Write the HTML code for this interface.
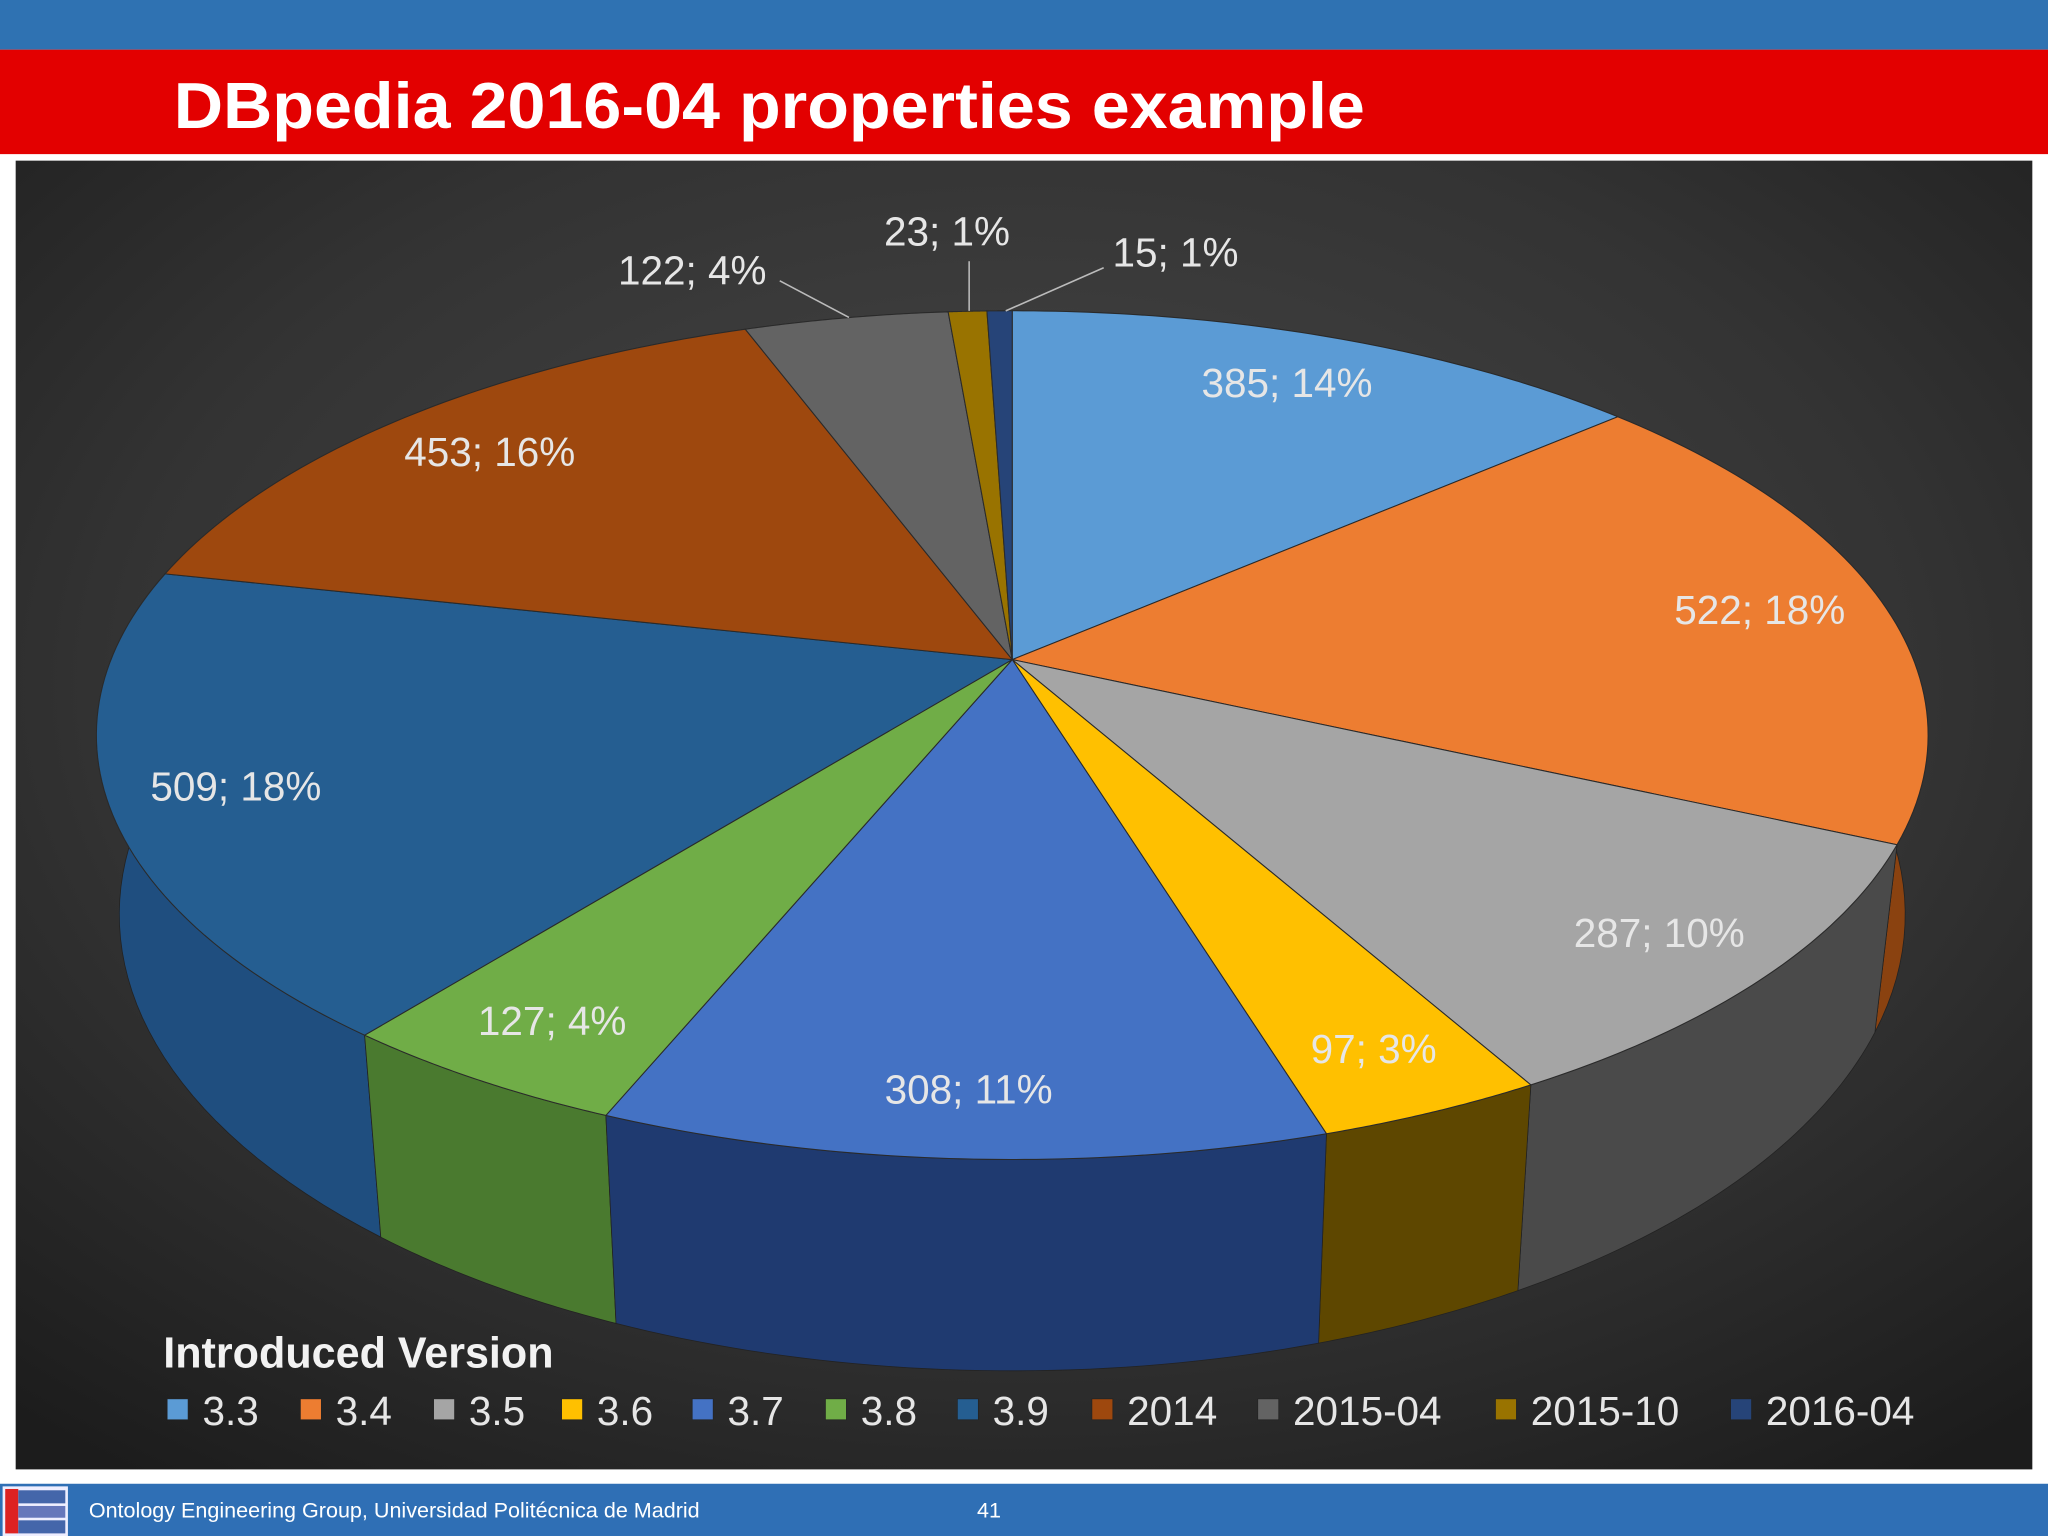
<!DOCTYPE html>
<html><head><meta charset="utf-8"><style>
html,body{margin:0;padding:0;background:#fff;width:2048px;height:1536px;overflow:hidden}
svg{display:block}
text{font-family:"Liberation Sans",sans-serif}
</style></head><body>
<svg id="s" width="2048" height="1536" viewBox="0 0 1568 1176" xmlns="http://www.w3.org/2000/svg">
<defs>
<radialGradient id="bg" cx="0.5" cy="0.4" r="0.75">
<stop offset="0" stop-color="#4a4a4a"/><stop offset="0.6" stop-color="#333"/><stop offset="1" stop-color="#1c1c1c"/>
</radialGradient>
</defs>
<rect x="0" y="0" width="1568" height="38" fill="#2f72b2"/>
<rect x="0" y="38" width="1568" height="80" fill="#e30000"/>
<text x="133" y="98" font-size="50" font-weight="bold" fill="#fff" textLength="912" lengthAdjust="spacingAndGlyphs">DBpedia 2016-04 properties example</text>
<rect x="12" y="123" width="1544" height="1002" fill="url(#bg)"/>
<g id="sides"></g>
<g id="tops"></g>
<g id="labels"></g>
<text x="125" y="1047" font-size="33" font-weight="bold" fill="#f2f2f2">Introduced Version</text>
<g id="legend"></g>
<rect x="0" y="1136" width="1568" height="40" fill="#2f6fb5"/>
<g>
<rect x="2" y="1138" width="50" height="38" fill="#eef"/>
<rect x="4" y="1140" width="10" height="34" fill="#d22"/>
<rect x="14" y="1141" width="36" height="10" fill="#4466aa"/>
<rect x="14" y="1153" width="36" height="9" fill="#6677bb"/>
<rect x="14" y="1164" width="36" height="10" fill="#4466aa"/>
</g>
<text x="68" y="1162" font-size="16.5" fill="#fff">Ontology Engineering Group, Universidad Politécnica de Madrid</text>
<text x="748" y="1162" font-size="16.5" fill="#fff">41</text>
</svg>
<script>
const categories=["3.3","3.4","3.5","3.6","3.7","3.8","3.9","2014","2015-04","2015-10","2016-04"];
const values=[385,522,287,97,308,127,509,453,122,23,15];
const percents=["14%","18%","10%","3%","11%","4%","18%","16%","4%","1%","1%"];
const topColors=["#5b9bd5","#ed7d31","#a5a5a5","#ffc000","#4472c4","#70ad47","#255e91","#9e480e","#636363","#997300","#264478"];
const sideColors=["#3c6e9e","#8a4210","#4a4a4a","#5e4700","#1f3a70","#4a7a2f","#1f4e7f","#6a2f08","#3e3e3e","#5e4700","#1a2f55"];
const NS="http://www.w3.org/2000/svg";
const total=values.reduce((a,b)=>a+b,0);
const apex={x:775,y:505};
const K=0.178,RX=690,RY=314.6,DEPTH=133,BX=0.975;
function sc(t){return 1/(1+K*Math.cos(t));}
function topRim(t){const s=sc(t);return {x:apex.x+RX*Math.sin(t)*s,y:apex.y-RY*Math.cos(t)*s};}
function botRim(t){const s=sc(t);return {x:apex.x+BX*RX*Math.sin(t)*s,y:apex.y-RY*Math.cos(t)*s+DEPTH*s};}
function el(tag,attrs){const e=document.createElementNS(NS,tag);for(const k in attrs)e.setAttribute(k,attrs[k]);return e;}
const sidesG=document.getElementById('sides'),topsG=document.getElementById('tops'),labG=document.getElementById('labels'),legG=document.getElementById('legend');
let acc=0;const slices=[];
values.forEach((v,i)=>{const a0=acc/total*2*Math.PI;acc+=v;const a1=acc/total*2*Math.PI;slices.push({i,a0,a1});});
slices.slice().sort((a,b)=>Math.cos((b.a0+b.a1)/2)-Math.cos((a.a0+a.a1)/2)).forEach(s=>{
  const pts=[];const n=40;
  for(let k=0;k<=n;k++){const p=topRim(s.a0+(s.a1-s.a0)*k/n);pts.push(p.x+','+p.y);}
  for(let k=n;k>=0;k--){const p=botRim(s.a0+(s.a1-s.a0)*k/n);pts.push(p.x+','+p.y);}
  const poly=el('polygon',{points:pts.join(' '),fill:sideColors[s.i],stroke:'#222','stroke-width':'0.6'});
  
  
  sidesG.appendChild(poly);
});
const outerIdx=[8,9,10];
slices.forEach(s=>{
  const pts=[apex.x+','+apex.y];const n=60;
  for(let k=0;k<=n;k++){const p=topRim(s.a0+(s.a1-s.a0)*k/n);pts.push(p.x+','+p.y);}
  const poly=el('polygon',{points:pts.join(' '),fill:topColors[s.i],stroke:'#2a2a2a','stroke-width':'0.8'});
  
  
  topsG.appendChild(poly);
  const m=(s.a0+s.a1)/2;const txt=values[s.i]+'; '+percents[s.i];
  if(outerIdx.indexOf(s.i)<0){
    const r=topRim(m);
    const x=apex.x+0.86*(r.x-apex.x),y=apex.y+0.86*(r.y-apex.y);
    const t=el('text',{x:x,y:y+11,'font-size':'31','text-anchor':'middle',fill:'#e6e6e6'});
    t.textContent=txt;
    
    
    labG.appendChild(t);
  }
});
const outer=[[8,530,218,597,215,650,243],[9,725,188,742,200,742,238],[10,900,204,845,205,770,238]];
outer.forEach(o=>{
  const i=o[0];
  const t=el('text',{x:o[1],y:o[2],'font-size':'31','text-anchor':'middle',fill:'#e6e6e6'});
  t.textContent=values[i]+'; '+percents[i];
  
  
  labG.appendChild(t);
  const l=el('line',{x1:o[3],y1:o[4],x2:o[5],y2:o[6],stroke:'#bbb','stroke-width':'1.2'});
  
  
  labG.appendChild(l);
});
const legX=[128,230,332,430,530,632,733,836,963,1145,1325];
categories.forEach((c,i)=>{
  const r=el('rect',{x:legX[i],y:1071,width:16,height:16,fill:topColors[i],stroke:'#222','stroke-width':'0.5'});
  
  
  legG.appendChild(r);
  const t=el('text',{x:legX[i]+27,y:1091,'font-size':'31',fill:'#e6e6e6'});
  t.textContent=c;
  
  
  legG.appendChild(t);
});
</script>
</body></html>
